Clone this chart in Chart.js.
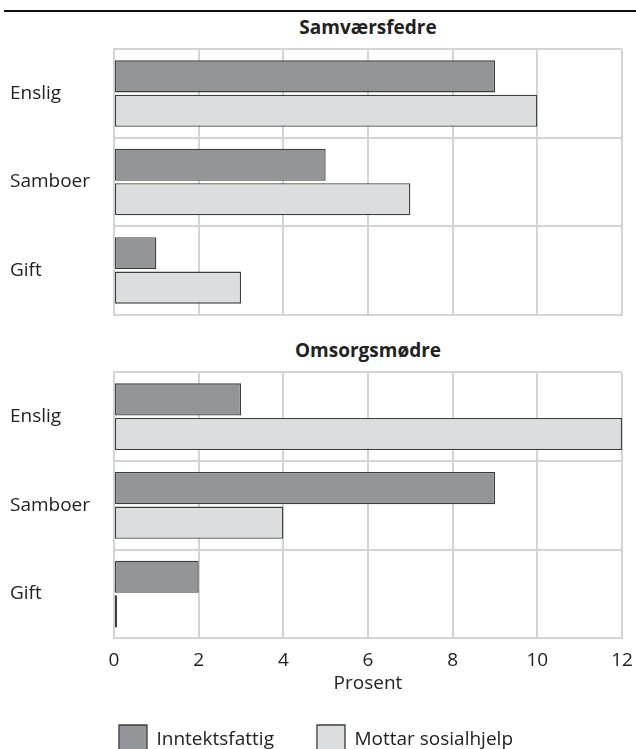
<!DOCTYPE html>
<html>
<head>
<meta charset="utf-8">
<script src="https://cdn.jsdelivr.net/npm/chart.js@4"></script>
<style>
  body { margin: 0; width: 636px; height: 749px; overflow: hidden; background: #fff; position: relative; font-family: "Open Sans", sans-serif; }
  .rule { position: absolute; left: 4px; right: 0; top: 10px; height: 2px; background: #111; }
  .panel-title { position: absolute; left: 114px; width: 508px; text-align: center; font-weight: bold; font-size: 19px; line-height: 24px; color: #222; }
  .box { position: absolute; left: 0; width: 636px; }
</style>
</head>
<body>
<div class="rule"></div>
<div class="panel-title" style="top: 15px;">Samværsfedre</div>
<div class="box" style="top: 38px; height: 288px;"><canvas id="fedre"></canvas></div>
<div class="panel-title" style="top: 338px;">Omsorgsmødre</div>
<div class="box" style="top: 361px; height: 404px;"><canvas id="modre"></canvas></div>
<script>
// Kategorier og verdier (prosent)
const categories = ["Enslig", "Samboer", "Gift"];
const seriesNames = ["Inntektsfattig", "Mottar sosialhjelp"];
const fedreInntektsfattig = [9, 5, 1];
const fedreSosialhjelp = [10, 7, 3];
const modreInntektsfattig = [3, 9, 2];
const modreSosialhjelp = [12, 4, 0];
const xMin = 0;
const xMax = 12;
const xStep = 2;

const darkFill = "#939598";
const lightFill = "#dcddde";
const barBorder = "#3c3c3c";
const gridColor = "#d3d4d5";
const textColor = "#222";
const font = { family: "'Open Sans', sans-serif", size: 19 };

function makeDatasets(a, b) {
  return [
    { label: seriesNames[0], data: a, backgroundColor: darkFill },
    { label: seriesNames[1], data: b, backgroundColor: lightFill },
  ].map((d) => ({
    ...d,
    borderColor: barBorder,
    borderWidth: 1.3,
    borderSkipped: false,
    minBarLength: 3, // so the 0 % bar still shows as a thin line
    categoryPercentage: 0.78,
    barPercentage: 0.93,
  }));
}

function makeChart(id, a, b, bottom) {
  const ctx = document.getElementById(id).getContext("2d");
  return new Chart(ctx, {
    type: "bar",
    data: { labels: categories, datasets: makeDatasets(a, b) },
    options: {
      indexAxis: "y",
      responsive: true,
      maintainAspectRatio: false,
      animation: false,
      layout: { padding: { left: 10, right: 14, top: 10, bottom: 0 } },
      scales: {
        x: {
          min: xMin,
          max: xMax,
          ticks: {
            display: bottom,
            stepSize: xStep,
            color: textColor,
            font: font,
            padding: 11,
            maxRotation: 0,
          },
          grid: { color: gridColor, lineWidth: 2, drawTicks: false },
          border: { color: gridColor, width: 2 },
          title: {
            display: bottom,
            text: "Prosent",
            color: textColor,
            font: font,
            padding: { top: -11, bottom: -13 },
          },
          // keep both panels the same width: the "12" label fits in the layout padding
          afterFit: (scale) => {
            scale.paddingLeft = 0;
            scale.paddingRight = 0;
          },
        },
        y: {
          ticks: { color: textColor, font: font, crossAlign: "far", padding: 0 },
          grid: { color: gridColor, lineWidth: 2, drawTicks: false },
          border: { color: gridColor, width: 2 },
          afterFit: (scale) => {
            scale.width = 104;
          },
        },
      },
      plugins: {
        legend: {
          display: bottom,
          position: "bottom",
          labels: {
            color: textColor,
            font: font,
            boxWidth: 28,
            boxHeight: 30,
            padding: 43,
          },
        },
        tooltip: { enabled: false },
      },
    },
  });
}

makeChart("fedre", fedreInntektsfattig, fedreSosialhjelp, false);
makeChart("modre", modreInntektsfattig, modreSosialhjelp, true);
</script>
</body>
</html>
